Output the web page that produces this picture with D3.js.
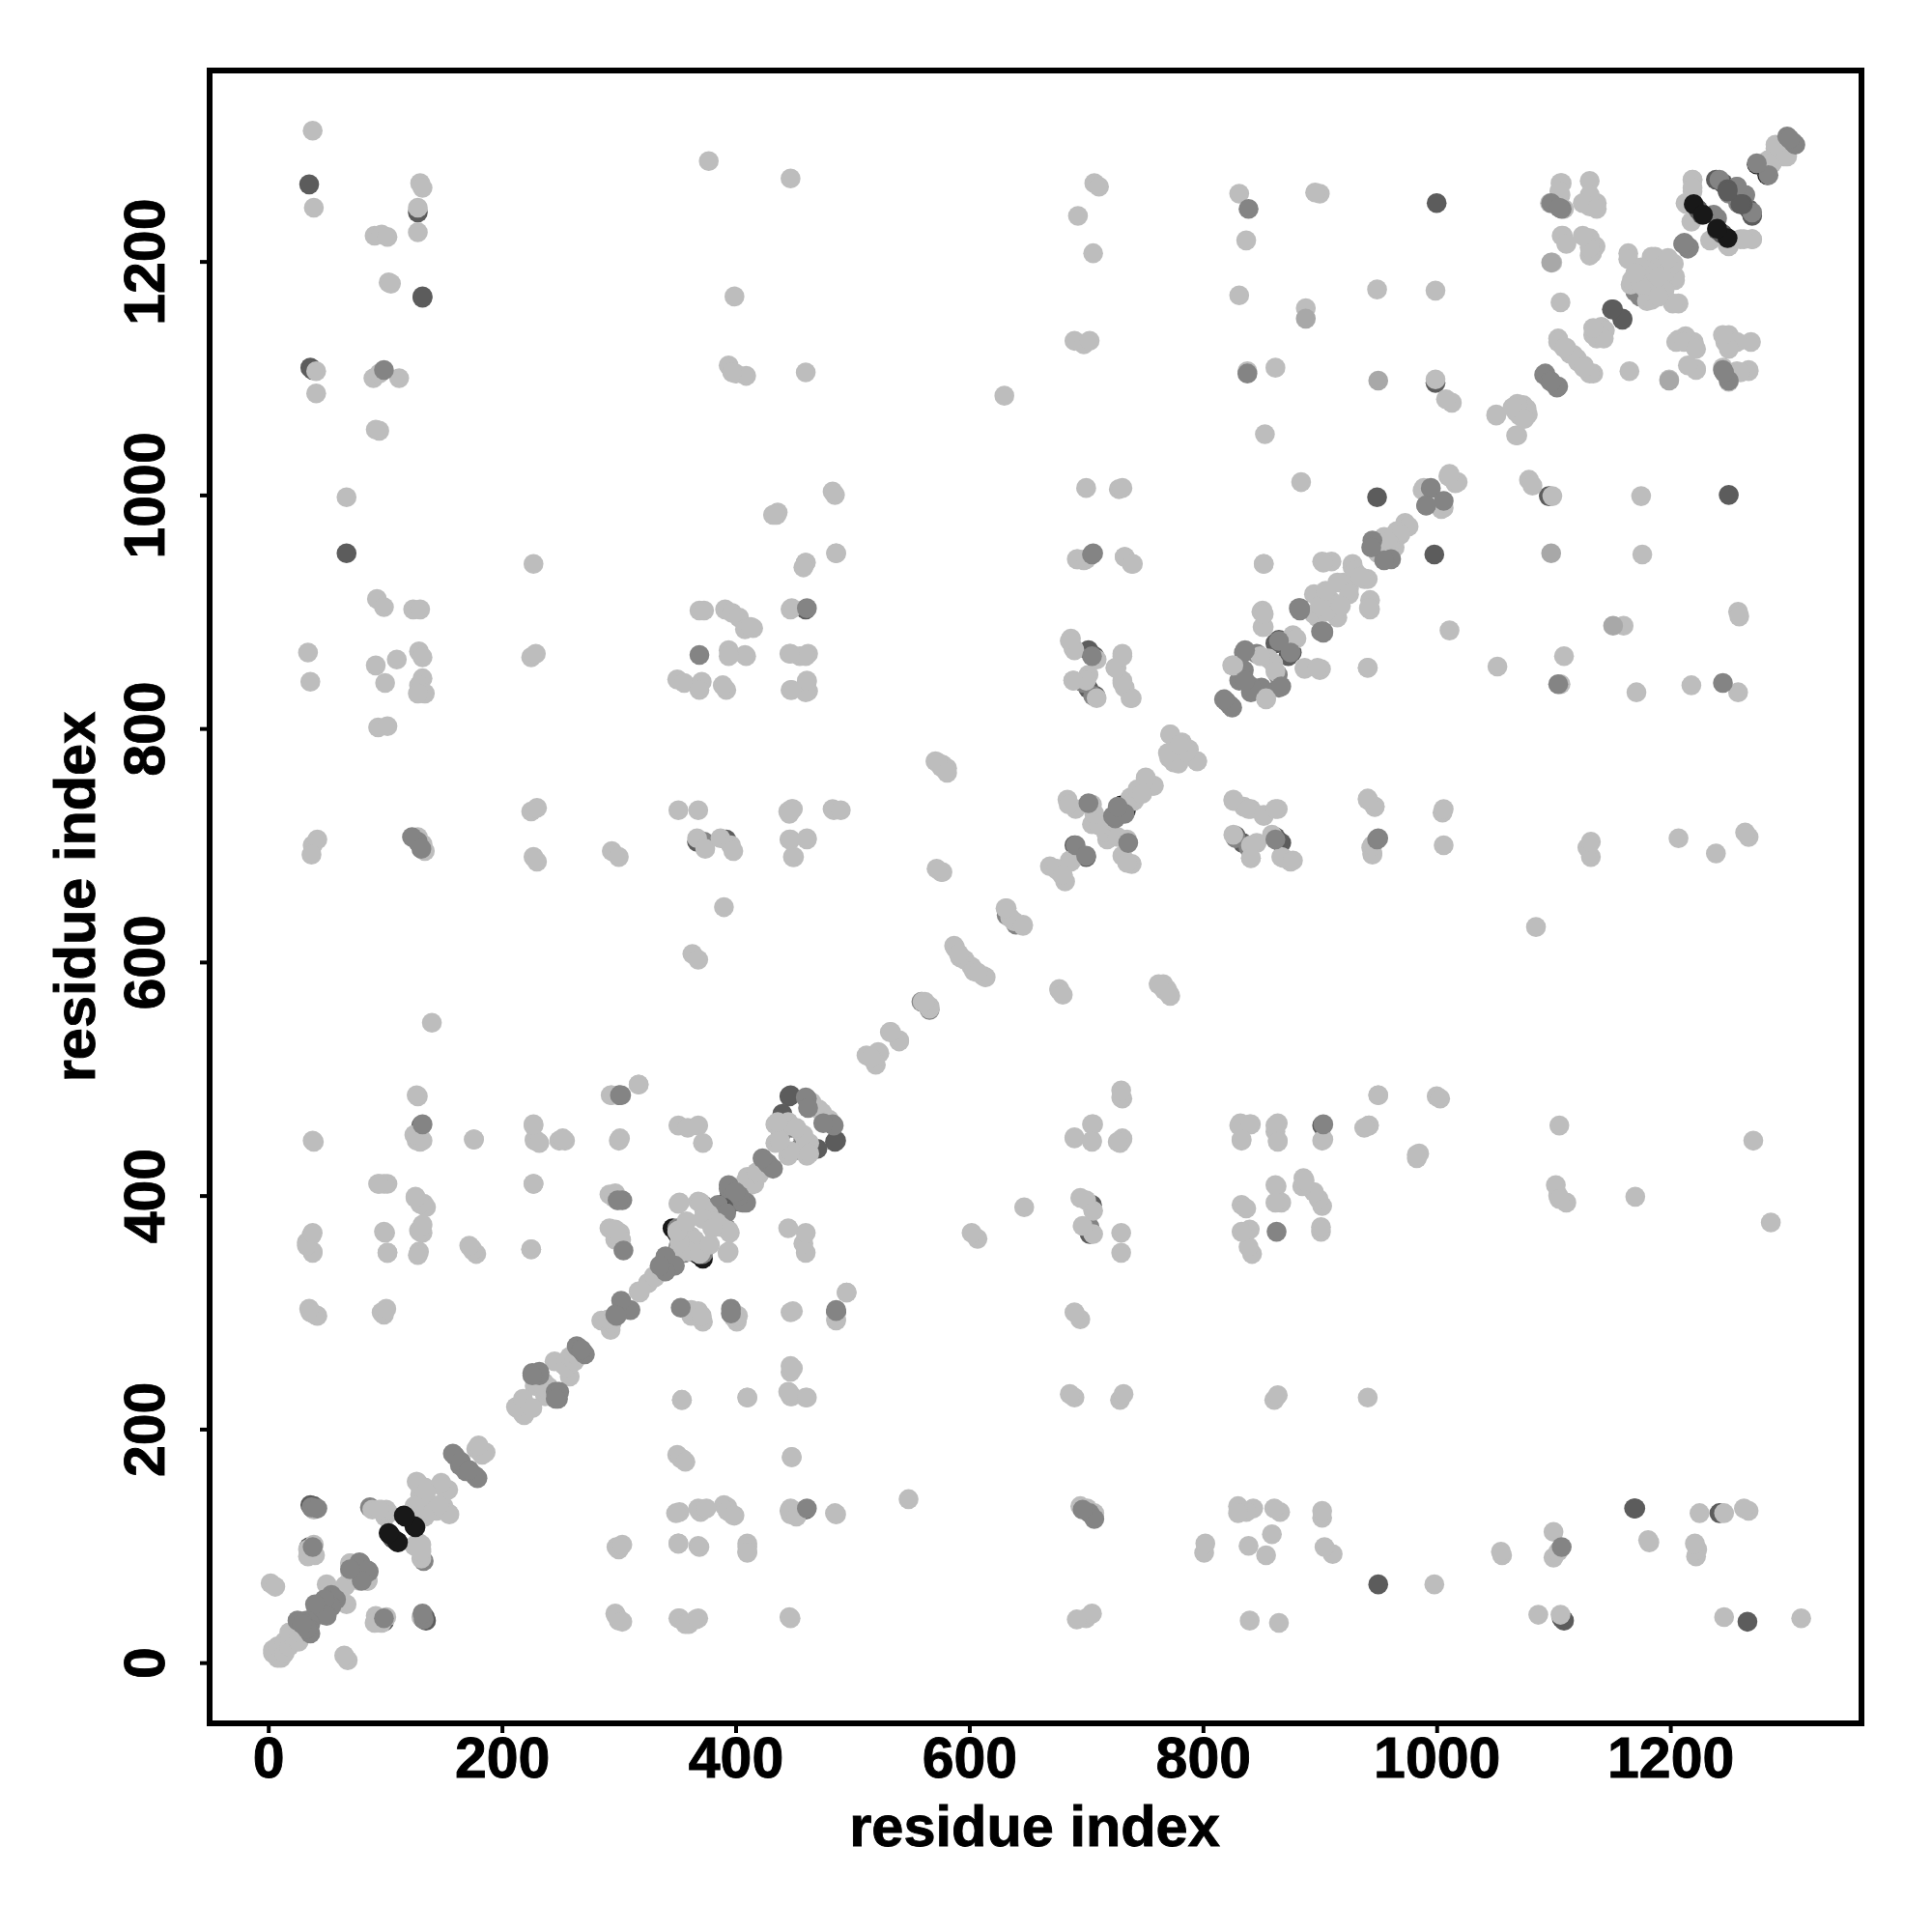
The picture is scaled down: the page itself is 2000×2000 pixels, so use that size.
<!DOCTYPE html>
<html><head><meta charset="utf-8">
<script src="https://cdnjs.cloudflare.com/ajax/libs/d3/7.8.5/d3.min.js"></script>
<style>html,body{margin:0;padding:0;background:#fff}svg{display:block}</style>
</head><body><div id="chart"></div>
<script>
// Contacts [i, j]; the map is symmetric so each is shown at (i,j) and (j,i).
const tickValues = [0,200,400,600,800,1000,1200];
const axisTitle = "residue index";

const contactsBlack = [[1274,1283],[394,392],[346,372],[367,350],[1223,1245],[730,734]];

const contactsDark = [[107,106],[1239,1270],[1245,1267],[1151,1159],[1159,1150],
[949,998],[1000,1250],[67,950],[862,873],[702,867],[702,834],[862,707],[300,486],[446,485],[486,447],[865,876],[36,135],
[131,460],[35,1266],[36,1109],[128,1242],[132,1170],[460,902],[999,1096],[39,134],[99,35],[132,38],[1107,38],[1169,132],
[372,392],[455,440],[440,470],[367,703],[392,705],[828,708],[700,690],[395,402]];

const contactsMidUnder = [[133,87],[134,141],[36,97],[350,372],[356,351],[385,392],[446,460],[453,439],[458,448],[846,864],[835,865],[850,835],[831,841],[1174,1170],[632,640],[566,559],[1250,1258],[373,703],[828,706],[839,698]];

const contactsLight = [
[38,1312],[39,1246],[41,1106],[41,1087],[38,700],[42,705],[37,692],[36,840],[34,865],[39,446],[37,366],[33,360],[38,352],[36,300],[42,297],
[67,998],[91,1222],[97,1223],[102,1221],[103,1182],[105,1181],[90,1100],[95,1104],[112,1100],[92,1056],[95,1055],[93,911],[99,904],[92,854],[100,839],[110,859],[94,801],[102,802],[95,410],[102,410],[100,368],[102,351],[97,300],[99,298],
[130,1267],[132,1263],[128,1246],[128,1225],[124,902],[130,902],[129,866],[132,861],[132,843],[129,837],[134,830],[128,830],[128,707],[132,701],[134,695],[140,548],[128,485],[129,453],[127,447],[132,447],[126,399],[133,393],[135,390],[129,370],[132,368],[129,352],
[176,448],[174,355],[178,350],[227,941],[225,861],[229,864],[225,729],[230,732],[227,690],[230,686],[227,460],[228,447],[231,446],[227,410],[225,354],[249,447],[254,447],
[294,695],[300,690],[293,486],[300,447],[317,495],[292,401],[296,398],[292,372],[298,369],[301,368],[297,362],[299,298],
[377,1286],[399,1170],[394,1111],[400,1104],[409,1102],[397,1105],[369,901],[373,901],[391,902],[397,899],[403,895],[408,885],[415,886],[350,842],[356,839],[371,840],[369,833],[392,833],[389,837],[394,867],[408,863],[351,730],[368,730],[367,706],[374,697],[387,706],[396,700],[398,695],[390,647],[363,607],[368,602],
[447,1271],[460,1105],[436,985],[432,983],[485,1000],[483,1003],[460,942],[486,950],[447,902],[447,864],[462,864],[455,862],[447,833],[462,832],[461,840],[449,731],[445,729],[461,706],[447,705],[449,690],[483,731],
[351,460],[359,458],[368,460],[372,445],[351,393],[368,395],[349,128],[369,130],[375,132],[393,130],[398,126],[446,130],[452,125],[486,127],[299,98],[303,101],[351,102],[369,99],[410,99],[410,94],[298,40],[303,35],[351,38],[357,33],[368,38],[447,38],[354,225],[353,175],[357,172],[448,176],[410,227],[448,228],[445,232],[461,227],[449,252],[396,299],[402,297],[449,301],[486,294],[495,317],[362,302],[371,297],
[2,68],[6,65],[34,97],[38,95],[40,92],[39,101],[34,91],[89,131],[97,131],[103,128],[100,130],[125,100],[131,101],[131,95],[39,131],[130,133],
[4,8],[11,4],[8,14],[14,18],[21,22],[18,26],[26,26],[50,67],[70,85],[66,66],[70,78],[85,70],[127,155],[134,150],[130,144],[149,151],[154,148],[142,131],[154,128],[146,135],[134,125],[213,218],[219,212],[179,184],[183,178],[186,180],
[228,237],[236,240],[240,232],[245,258],[253,255],[258,262],[262,265],[232,248],[218,226],
[285,293],[294,291],[317,318],[325,325],[330,331],[335,338],[341,345],
[351,370],[357,369],[362,365],[351,350],[360,352],[369,350],[373,388],[384,377],[378,380],[394,370],[394,352],[372,380],[358,378],[409,413],[416,410],[420,418],
[434,461],[445,460],[434,445],[447,438],[463,445],[463,436],[458,452],[471,474],[465,480],
[512,520],[522,523],[532,540],[540,533],[518,516],[560,566],[566,562],[588,612],[596,602],[604,592],[614,587],[591,607],[632,646],[638,635],[646,631],[677,576],[769,577],[766,581],[772,571],[577,677],[572,680],[576,767],[573,771],[581,762],
[669,682],[679,675],[686,687],[675,680],[684,739],[691,731],[705,718],[717,711],[727,707],[735,705],[735,685],[738,741],[751,757],[758,751],[744,748],[772,795],[782,788],[771,775],[779,770],[795,772],[786,780],
[851,901],[851,887],[856,860],[825,854],[854,826],[862,849],[877,880],[887,852],[900,850],[895,898],[908,911],[941,852],[852,898],
[686,875],[689,869],[709,859],[689,841],[709,826],[702,846],[731,864],[725,852],[731,841],[738,826],[733,835],
[826,739],[839,731],[852,726],[862,731],[841,700],[841,689],[867,690],[877,687],[941,739],[947,733],[944,698],[945,692],[730,484],[730,490],
[705,461],[690,450],[705,446],[731,448],[727,446],[831,460],[841,461],[833,448],[862,460],[864,446],[903,448],[942,460],[938,458],[950,486],[983,435],[862,409],[887,413],[862,394],
[630,1085],[693,1239],[707,1267],[711,1264],[706,1207],[690,1132],[698,1129],[703,1132],[700,1006],[728,1005],[731,1006],[693,945],[700,945],[733,947],[740,941],
[831,1258],[837,1218],[831,1171],[838,1106],[862,1109],[853,1052],[884,1011],[852,941],[888,1160],[900,1258],[896,1259],[949,1176],[999,1175],[999,1099],[1013,1079],[1008,1082],[1106,1267],[1131,1269],[1109,1245],[1131,1247],[1137,1250],[1108,1222],[1129,1220],[1133,1207],[1099,1199],[1106,1165],[1131,1205],[1131,1220],[1131,1257],[1107,1222],[1107,1267],[1097,1250],[1106,1257],[1111,1215],[1136,1213],[1105,1260],[1125,1250],[1137,1245],[1131,1212],[1125,1222],
[1305,1300],[1290,1297],[1284,1287],[1296,1295],[1300,1290],[1219,1270],[1213,1250],[1234,1218],[1249,1214],[1270,1219],[1260,1219],[1219,1263],
[1164,1207],[1184,1204],[1197,1200],[1204,1187],[1166,1180],[1184,1167],[1202,1164],[1191,1184],[1175,1195],[1180,1175],[1190,1195],[1203,1198],[1170,1190],[1187,1190],
[1141,1144],[1134,1137],[1143,1134],[1104,1134],[1111,1126],[1121,1114],[1131,1104],[1117,1120],[1126,1109],
[1051,1069],[1074,1077],[1068,1071],[1078,1069],[1068,1051],[1065,1075],
[1010,1016],[1018,1011],[988,1004],[1006,989],[973,976],[966,969],[955,964],[928,941],[902,943],[910,943],[938,928],[908,908],[942,903],[925,920],[915,925],[950,950],[960,958],[895,915],[905,900],[918,905],[930,935]
];

const contactsPale = [[888,1151],[950,1098],[1098,1199]];

const contactsMid = [
[99,1107],[37,133],[128,703],[123,707],[131,697],[86,78],[79,85],[80,70],[54,58],[54,48],[41,47],[50,40],[36,33],[29,35],[25,36],[33,29],[99,38],[132,42],
[160,177],[169,164],[179,158],[165,172],[226,248],[232,246],[249,232],[246,226],[265,270],[271,264],[268,268],
[303,396],[301,486],[304,353],[303,304],[310,302],[297,298],[348,340],[340,335],[396,299],[486,302],[461,132],[369,863],[394,406],[409,394],[403,400],[427,428],[432,423],[461,483],[484,460],[475,462],
[691,700],[702,736],[725,723],[733,727],
[820,823],[825,818],[841,836],[867,836],[875,865],[882,903],[901,883],
[950,706],[903,461],[862,705],[839,1245],[705,949],[838,1104],
[1098,1250],[1300,1307],[1305,1302],[1284,1274],[1240,1237],[1257,1264],[1264,1257],[1270,1242],[1211,1215],[1216,1212],[1245,1107],[1093,1104],[1103,1092],[1097,1098],
[995,1006],[991,991],[945,961],[955,944],[883,903],[902,883],[1105,1246]
];

const contactsDarkTop = [[1227,1240],[1249,1262],[1244,1224],[1260,1249]];
const contactsBlackTop = [[116,126],[125,117],[1220,1249],[1240,1228],[104,110],[111,103]];

const W=2000, H=2000;
const x = d3.scaleLinear().domain([-50.2,1363.6]).range([217,1927]);
const y = d3.scaleLinear().domain([-52,1363.5]).range([1784,73]);
const gray = d3.scaleOrdinal().domain(["black","dark","light","pale","mid"]).range(["#181818","#5c5c5c","#bdbdbd","#a8a8a8","#848484"]);

const svg = d3.select("#chart").append("svg").attr("width",W).attr("height",H);
const font = "'Liberation Sans', Arial, sans-serif";

const layers = [["black",contactsBlack],["dark",contactsDark],["mid",contactsMidUnder],["light",contactsLight],["pale",contactsPale],["mid",contactsMid],["dark",contactsDarkTop],["black",contactsBlackTop]];
const pts = [];
layers.forEach(([k,list])=>list.forEach(([i,j])=>{pts.push({a:i,b:j,k});pts.push({a:j,b:i,k});}));

svg.append("g").selectAll("circle").data(pts).join("circle")
  .attr("cx",d=>x(d.a)).attr("cy",d=>y(d.b)).attr("r",10.3).attr("fill",d=>gray(d.k));

svg.append("rect").attr("x",217).attr("y",73).attr("width",1710).attr("height",1711)
  .attr("fill","none").attr("stroke","#000").attr("stroke-width",6);

const gx = svg.append("g").attr("transform","translate(0,1784)")
  .call(d3.axisBottom(x).tickValues(tickValues).tickSize(10).tickPadding(0).tickFormat(d3.format("d")));
const gy = svg.append("g").attr("transform","translate(217,0)")
  .call(d3.axisLeft(y).tickValues(tickValues).tickSize(10).tickFormat(d3.format("d")));
[gx,gy].forEach(g=>{
  g.select(".domain").remove();
  g.selectAll(".tick line").attr("stroke","#000").attr("stroke-width",4);
  g.selectAll(".tick text").attr("fill","#000").attr("stroke","#000").attr("stroke-width",0.9)
   .style("font-family",font).style("font-weight","bold").style("font-size","59px");
});
gx.selectAll(".tick text").attr("y",56).attr("dy",0);
gy.selectAll(".tick text").attr("x",0).attr("y",0).attr("dy",0)
  .attr("text-anchor","middle")
  .attr("transform",d=>`translate(-47,0) rotate(-90)`);

svg.append("text").attr("x",1071).attr("y",1911).attr("text-anchor","middle").attr("stroke","#000").attr("stroke-width",0.9)
  .style("font-family",font).style("font-weight","bold").style("font-size","59.5px").text(axisTitle);
svg.append("text").attr("transform","translate(98,928.5) rotate(-90)").attr("text-anchor","middle").attr("stroke","#000").attr("stroke-width",0.9)
  .style("font-family",font).style("font-weight","bold").style("font-size","59.5px").text(axisTitle);
</script></body></html>
